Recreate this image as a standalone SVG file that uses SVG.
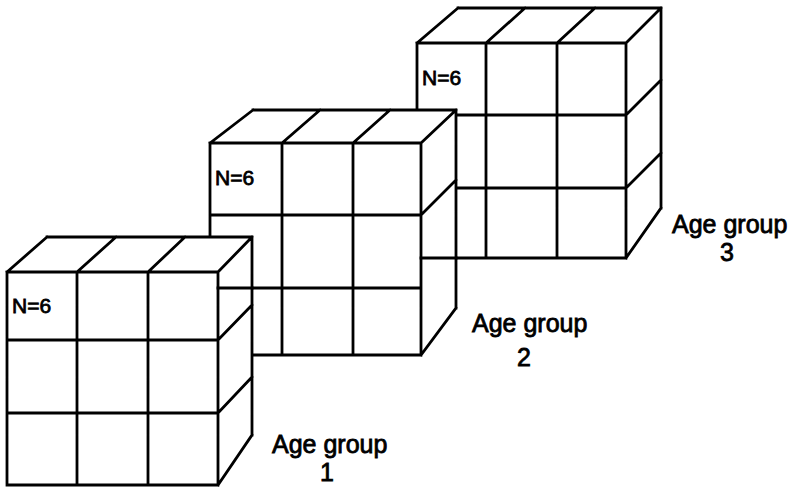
<svg xmlns="http://www.w3.org/2000/svg" width="791" height="487" viewBox="0 0 791 487">
<style>
.ln{stroke:#000;stroke-width:2.8;fill:none;stroke-linecap:square}
.bg{fill:#fff;stroke:none}
.n{font-family:"Liberation Sans",Arial,sans-serif;font-size:21px;fill:#000;stroke:#000;stroke-width:0.8}
.lab{font-family:"Liberation Sans",Arial,sans-serif;font-size:25px;fill:#000;stroke:#000;stroke-width:0.8}
</style>
<rect width="791" height="487" fill="#fff"/>
<g id="cube3">
<polygon class="bg" points="417,43 458,8 661,8 661,208 626,258 417,258"/>
<path class="ln" d="M417,43V258M486,43V258M557,43V258M626,43V258M417,43H626M417,115H626M417,188H626M417,258H626M458,8H661M417,43L458,8M486,43L525,8M557,43L595,8M626,43L661,8M661,8V208M626,115L661,80M626,188L661,153M626,258L661,208"/>
<text class="n" x="422" y="85">N=6</text>
</g>
<g id="cube2">
<polygon class="bg" points="210,143 253,110 456,110 456,308 421,355 210,355"/>
<path class="ln" d="M210,143V355M282,143V355M353,143V355M421,143V355M210,143H421M210,215H421M210,288H421M210,355H421M253,110H456M210,143L253,110M282,143L320,110M353,143L390,110M421,143L456,110M456,110V308M421,215L456,180M421,355L456,308"/>
<text class="n" x="215" y="185">N=6</text>
</g>
<g id="cube1">
<polygon class="bg" points="7,272 47,237 252,237 252,435 218,485 7,485"/>
<path class="ln" d="M7,272V485M77,272V485M148,272V485M218,272V485M7,272H218M7,340H218M7,413H218M7,485H218M47,237H252M7,272L47,237M77,272L116,237M148,272L185,237M218,272L252,237M252,237V435M218,340L252,305M218,413L252,377M218,485L252,435"/>
<text class="n" x="12" y="313">N=6</text>
</g>
<g id="connectors">
<path class="ln" d="M218,288H252M421,258H456"/>
</g>
<g id="labels">
<text class="lab" x="272" y="453">Age group</text>
<text class="lab" x="327" y="481" text-anchor="middle">1</text>
<text class="lab" x="472" y="332">Age group</text>
<text class="lab" x="524" y="366" text-anchor="middle">2</text>
<text class="lab" x="672" y="233">Age group</text>
<text class="lab" x="727" y="261" text-anchor="middle">3</text>
</g>
</svg>
